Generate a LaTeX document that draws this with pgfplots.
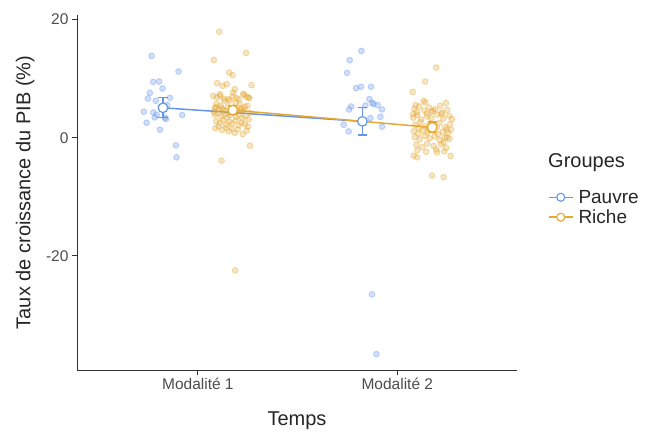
\documentclass[border=0pt]{standalone}
\usepackage{fontspec}
\setmainfont{Liberation Sans}
\usepackage{pgfplots}
\usepackage{pgfplotstable}
\pgfplotsset{compat=1.18}
\definecolor{pauvre}{RGB}{100,149,237}
\definecolor{riche}{RGB}{228,168,52}
\definecolor{ticktxt}{RGB}{77,77,77}

% individual observations (jittered x, growth %)
\pgfplotstableread{
x y
0.768 13.84
0.903 11.19
0.776 9.45
0.806 9.50
0.823 8.32
0.759 7.59
0.749 6.63
0.789 6.24
0.846 5.57
0.729 4.39
0.776 4.27
0.784 3.43
0.840 3.16
0.921 3.83
0.743 2.53
0.810 1.35
0.890 -1.30
0.893 -3.32
0.794 3.88
0.835 3.38
0.815 5.23
0.860 6.75
1.820 14.68
1.761 13.11
1.748 10.97
1.793 8.39
1.818 8.61
1.868 8.61
1.860 6.53
1.873 5.91
1.881 5.69
1.901 5.52
1.923 4.78
1.769 5.28
1.758 4.78
1.840 5.45
1.915 3.54
1.865 3.32
1.731 2.19
1.756 1.06
1.923 1.86
1.873 -26.50
1.895 -36.62
}\pauvrepts

\pgfplotstableread{
x y
1.107 17.94
1.241 14.35
1.080 13.16
1.157 11.02
1.174 10.58
1.097 9.23
1.124 8.78
1.144 9.06
1.269 8.89
1.185 8.22
1.177 7.65
1.077 7.09
1.110 7.38
1.135 6.24
1.227 7.38
1.244 6.92
1.257 6.70
1.152 6.53
1.194 6.70
1.094 5.69
1.114 5.40
1.211 5.69
1.085 5.01
1.127 4.68
1.219 4.68
1.236 5.23
1.261 -1.35
1.119 -3.88
1.187 -22.45
1.090 5.2
1.105 4.8
1.120 5.0
1.138 4.5
1.150 5.3
1.165 4.9
1.182 5.1
1.198 4.6
1.215 5.0
1.230 4.7
1.248 5.4
1.262 4.2
1.085 3.9
1.100 4.1
1.118 3.6
1.133 4.0
1.147 3.4
1.160 3.8
1.178 4.2
1.192 3.5
1.208 3.9
1.222 3.3
1.240 3.7
1.255 3.1
1.092 2.8
1.110 2.5
1.126 3.0
1.142 2.2
1.158 2.7
1.172 2.4
1.188 2.9
1.205 2.1
1.218 2.6
1.235 2.3
1.250 1.9
1.088 1.6
1.104 1.9
1.122 1.3
1.140 1.7
1.155 1.1
1.170 1.5
1.185 0.8
1.200 1.4
1.225 0.6
1.245 1.2
1.095 6.8
1.130 6.6
1.160 6.3
1.190 5.9
1.205 6.5
1.255 6.8
1.112 7.1
1.175 7.0
1.232 7.3
1.080 4.4
2.195 11.86
2.140 9.50
2.077 7.76
2.092 5.52
2.132 6.24
2.140 5.96
2.244 5.86
2.179 4.56
2.224 4.27
2.274 3.16
2.079 4.00
2.269 1.35
2.249 0.05
2.232 -0.79
2.199 -2.48
2.267 -3.09
2.099 -3.32
2.082 -3.04
2.174 -6.41
2.232 -6.70
2.085 4.9
2.110 5.3
2.135 4.6
2.160 5.1
2.190 4.8
2.215 5.4
2.250 4.7
2.080 3.4
2.100 3.8
2.120 3.1
2.150 3.6
2.170 3.3
2.200 3.9
2.230 3.2
2.260 3.7
2.090 2.2
2.115 2.6
2.140 1.9
2.165 2.4
2.185 2.0
2.210 2.5
2.240 1.8
2.265 2.3
2.082 1.1
2.105 0.7
2.128 1.3
2.152 0.9
2.178 1.2
2.205 0.6
2.228 1.0
2.255 0.8
2.088 0.1
2.112 -0.3
2.138 0.3
2.162 -0.1
2.188 0.2
2.212 -0.4
2.238 0.0
2.262 -0.2
2.095 -1.2
2.125 -1.6
2.150 -1.0
2.182 -1.4
2.220 -1.1
2.245 -1.7
2.100 -2.1
2.145 -2.4
2.195 -2.0
2.235 -2.3
2.098 4.3
2.148 4.1
2.172 4.4
2.222 4.0
2.108 1.6
2.158 1.5
2.198 1.7
2.248 1.4
}\richepts

% group means with error
\pgfplotstableread{
x y e
0.825 5.06 1.7
1.825 2.76 2.3
}\pauvremean
\pgfplotstableread{
x y e
1.175 4.67 0.8
2.175 1.74 0.9
}\richemean

\begin{document}
\begin{tikzpicture}
\begin{axis}[name=ax, scale only axis, width=440pt, height=355pt,
  xmin=0.394, xmax=2.60, ymin=-39.3, ymax=20.76,
  axis x line*=bottom, axis y line*=left,
  axis line style={line width=0.9pt, draw=black!80},
  xtick={1,2}, xticklabels={Modalité 1, Modalité 2},
  ytick={-20,0,20}, yticklabels={-20,0,20},
  tick align=outside, major tick length=5pt,
  tick style={line width=0.9pt, draw=black!80},
  tick label style={font=\fontsize{15.5}{18}\selectfont, text=ticktxt},
  xlabel={Temps}, ylabel={Taux de croissance du PIB (\%)},
  label style={font=\fontsize{20}{24}\selectfont, text=black!85},
  xlabel style={at={(axis description cs:0.5,-0.144)}, anchor=center},
  ylabel style={at={(axis description cs:-0.118,0.5)}, anchor=center},
  legend style={draw=none, fill=none, at={(axis description cs:1.07,0.458)}, anchor=west,
    font=\fontsize{19}{22}\selectfont, text=black!85, inner sep=0pt,
    row sep=3pt, nodes={inner xsep=5pt, inner ysep=1pt}},
  legend cell align=left,
  legend image code/.code={\draw[line width=1.5pt, mark repeat=2, mark phase=2] plot coordinates {(0pt,0pt) (12pt,0pt) (24pt,0pt)};},
]
\addlegendimage{pauvre, line width=1.5pt, mark=*, mark size=4pt, mark options={fill=white, line width=1.1pt}}
\addlegendentry{Pauvre}
\addlegendimage{riche, line width=1.5pt, mark=*, mark size=4pt, mark options={fill=white, line width=1.1pt}}
\addlegendentry{Riche}

\addplot[only marks, mark=*, mark size=2.9pt, forget plot,
  mark options={draw=pauvre, draw opacity=0.4, fill=pauvre, fill opacity=0.3, line width=0.8pt}]
  table[x=x, y=y] {\pauvrepts};
\addplot[only marks, mark=*, mark size=2.9pt, forget plot,
  mark options={draw=riche, draw opacity=0.4, fill=riche, fill opacity=0.3, line width=0.8pt}]
  table[x=x, y=y] {\richepts};

\addplot[pauvre, line width=1.5pt, forget plot] table[x=x, y=y] {\pauvremean};
\addplot[riche, line width=1.5pt, forget plot] table[x=x, y=y] {\richemean};

\addplot[only marks, mark=*, mark size=4.8pt, forget plot, draw=pauvre,
  mark options={fill=white, draw=pauvre, line width=1.2pt},
  error bars/.cd, y dir=both, y explicit,
  error bar style={line width=1.3pt, pauvre},
  error mark options={line width=1.3pt, pauvre, mark size=4.7pt, rotate=90}]
  table[x=x, y=y, y error=e] {\pauvremean};
\addplot[only marks, mark=*, mark size=4.8pt, forget plot, draw=riche,
  mark options={fill=white, draw=riche, line width=1.2pt},
  error bars/.cd, y dir=both, y explicit,
  error bar style={line width=1.3pt, riche},
  error mark options={line width=1.3pt, riche, mark size=4.7pt, rotate=90}]
  table[x=x, y=y, y error=e] {\richemean};
\end{axis}
\node[anchor=west, font=\fontsize{20}{24}\selectfont, text=black!85, inner sep=0pt]
  at ([shift={(31pt,-148pt)}]ax.north east) {Groupes};
\path ([shift={(-77pt,-60pt)}]ax.south west) rectangle ([shift={(131pt,15pt)}]ax.north east);
\end{tikzpicture}
\end{document}
